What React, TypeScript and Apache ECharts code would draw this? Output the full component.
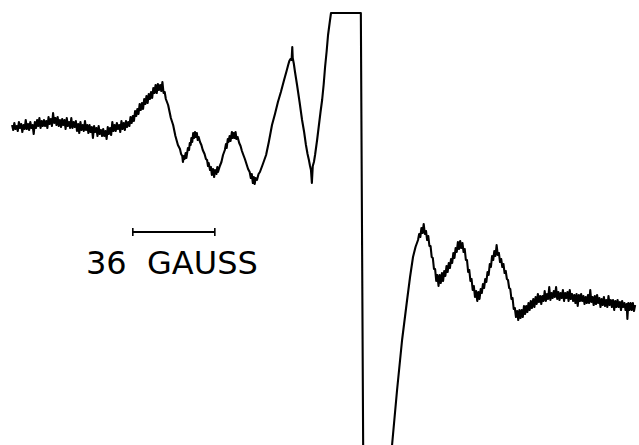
import React, { useEffect, useRef } from "react";
import * as echarts from "echarts";

// Field in gauss (relative), signal in arbitrary units (derivative EPR spectrum)
const leftBaseline: [number, number][] = [
  [5.3, 97], [5.8, 92], [6.3, 99], [6.8, 93], [7.3, 96], [7.8, 91], [8.3, 100], [8.8, 94],
  [9.3, 98], [9.8, 90], [10.3, 97], [10.8, 93], [11.3, 102], [11.8, 93], [12.3, 98], [12.8, 92],
  [13.3, 100], [13.8, 94], [14.3, 97], [14.8, 88], [15.3, 100], [15.8, 94], [16.3, 102], [16.8, 96],
  [17.3, 104], [17.8, 94], [18.3, 101], [18.8, 96], [19.3, 102], [19.8, 96], [20.3, 101], [20.8, 94],
  [21.3, 105], [21.8, 98], [22.3, 103], [22.8, 96], [23.3, 109], [23.8, 99], [24.3, 104], [24.8, 97],
  [25.3, 105], [25.8, 96], [26.3, 102], [26.8, 95], [27.3, 103], [27.8, 97], [28.3, 102], [28.8, 93],
  [29.3, 104], [29.8, 96], [30.3, 100], [30.8, 94], [31.3, 104], [31.8, 94], [32.3, 100], [32.8, 95],
  [33.3, 101], [33.8, 91], [34.3, 98], [34.8, 89], [35.3, 100], [35.8, 92], [36.3, 97], [36.8, 91],
  [37.3, 101], [37.8, 92], [38.3, 97], [38.8, 89], [39.3, 97], [39.8, 90], [40.3, 95], [40.8, 84],
  [41.3, 96], [41.8, 90], [42.3, 94], [42.8, 86], [43.3, 96], [43.8, 88], [44.3, 92], [44.8, 86],
  [45.3, 93], [45.8, 86], [46.3, 91], [46.8, 83], [47.3, 95], [47.8, 88], [48.3, 94], [48.8, 87],
  [49.3, 100], [49.8, 91], [50.3, 97], [50.8, 91], [51.3, 99], [51.8, 93], [52.3, 97], [52.8, 90],
  [53.3, 101], [53.8, 93], [54.3, 99], [54.8, 92], [55.3, 101], [55.8, 95], [56.3, 100], [56.8, 96],
  [57.3, 105], [57.8, 99],
];

const lowFieldLines: [number, number][] = [
  [58.3, 106], [58.8, 101], [59.3, 111], [59.8, 106], [60.3, 113], [60.8, 108], [61.3, 118],
  [61.8, 112], [62.3, 119], [62.8, 113], [63.3, 123], [63.8, 118], [64.3, 126], [64.8, 119],
  [65.3, 128], [65.8, 123], [66.3, 130], [66.8, 124], [67.3, 134], [67.8, 129], [68.3, 137],
  [68.8, 129], [69.3, 138], [69.8, 132], [70.3, 137], [70.8, 131], [71.3, 140], [71.8, 129],
  [72.3, 130], [72.8, 123], [73.8, 117], [75, 104], [76, 97], [77, 86], [78.1, 77], [79, 73],
  [79.5, 68], [80, 66], [80.3, 60], [80.7, 66], [81, 63], [81.5, 69], [81.8, 64], [82.5, 74],
  [83, 72], [83.3, 79], [83.7, 77], [84, 84], [84.4, 80], [84.8, 89], [85.2, 84], [85.6, 90],
  [86, 85], [86.4, 89], [86.8, 82], [87.2, 85], [87.8, 80], [88.4, 77], [89, 72], [89.8, 68],
  [90.4, 63], [90.9, 62], [91.3, 56], [91.6, 59], [92.2, 52], [92.6, 55], [93, 47], [93.5, 53],
  [94, 45], [94.4, 52], [95, 48], [95.4, 55], [95.7, 50], [96.5, 56], [97.2, 60], [97.9, 67],
  [98.7, 72], [99.2, 78], [99.5, 74], [100, 83], [100.3, 80], [100.8, 86], [101.2, 81],
  [101.8, 90], [102.2, 84], [102.6, 89], [103, 84], [103.4, 90], [103.8, 83], [104.3, 85],
  [105, 79], [105.6, 76], [106.2, 71], [107, 66], [107.5, 63], [108.2, 58], [108.9, 53],
  [109.6, 50], [110.1, 44], [110.5, 48], [111, 39], [111.4, 45], [111.8, 38], [112.2, 44],
  [112.8, 42], [113.5, 48], [114.1, 50], [115.4, 58], [116.8, 67], [118, 80], [119.4, 97],
  [120.7, 108], [122, 120], [123.3, 130], [124.7, 142], [125.8, 151], [126.5, 157], [127, 161],
  [127.5, 163], [128.0, 162], [128.3, 175], [128.5, 164], [129, 158], [129.5, 150], [130.4, 137],
  [131.5, 120], [132.6, 102], [133.5, 90], [134.3, 77], [135, 68], [135.6, 62], [136.1, 56],
  [136.5, 52], [136.9, 39], [137.3, 56], [137.8, 60], [138.3, 67], [139.2, 82], [140, 97],
  [140.7, 110], [141.4, 122], [142.1, 138], [142.7, 155], [143.4, 171], [144, 187], [144.7, 199],
];

const centralLine: [number, number][] = [
  [145.3, 209], [158.4, 209], [159.5, -260], [171.6, -260], [172.1, -223], [174.3, -168],
  [176.5, -118], [178.7, -78], [180, -55], [181.3, -35], [182.4, -25], [183.5, -18],
];

const highFieldLines: [number, number][] = [
  [184.0, -12], [184.5, -15], [185.0, -6], [185.5, -11], [186.0, -2], [186.5, -12], [187.0, -9],
  [187.5, -18], [188.0, -14], [188.5, -24], [189.0, -24], [189.5, -35], [190.0, -36], [190.5, -47],
  [191.0, -47], [191.5, -59], [192.0, -53], [192.5, -64], [193.0, -53], [193.5, -61], [194.0, -51],
  [194.5, -59], [195.0, -49], [195.5, -54], [196.0, -44], [196.5, -50], [197.0, -41], [197.5, -46],
  [198.0, -37], [198.5, -41], [199.0, -31], [199.5, -36], [200.0, -26], [200.5, -30], [201.0, -20],
  [201.5, -27], [202.0, -19], [202.5, -26], [203.0, -21], [203.5, -30], [204.0, -27], [204.5, -38],
  [205.0, -38], [205.5, -50], [206.0, -48], [206.5, -59], [207.0, -57], [207.5, -68], [208.0, -64],
  [208.5, -75], [209.0, -69], [209.5, -79], [210.0, -70], [210.5, -77], [211.0, -67], [211.5, -71],
  [212.0, -62], [212.5, -66], [213.0, -57], [213.5, -60], [214.0, -50], [214.5, -53], [215.0, -42],
  [215.5, -45], [216.0, -34], [216.5, -38], [217.0, -29], [217.5, -34], [218.0, -23], [218.5, -33],
  [219.0, -31], [219.5, -40], [220.0, -37], [220.5, -45], [221.0, -42], [221.5, -51], [222.0, -49],
  [222.5, -57], [223.0, -58], [223.5, -66], [224.0, -67], [224.5, -77], [225.0, -76], [225.5, -87],
  [226.0, -86], [226.5, -95], [227.0, -89], [227.5, -98], [228.0, -88], [228.5, -96], [229.0, -88],
  [229.5, -95], [230.0, -84], [230.5, -92], [231.0, -84], [231.5, -90], [232.0, -81], [232.5, -88],
  [233.0, -79], [233.5, -86],
];

const rightBaseline: [number, number][] = [
  [234.1, -77], [234.6, -85], [235.1, -75], [235.6, -82], [236.1, -72], [236.6, -80], [237.1, -74],
  [237.6, -82], [238.1, -74], [238.6, -79], [239.1, -69], [239.6, -79], [240.1, -72], [240.6, -77],
  [241.1, -65], [241.6, -78], [242.1, -71], [242.6, -76], [243.1, -69], [243.6, -75], [244.1, -65],
  [244.6, -77], [245.1, -70], [245.6, -78], [246.1, -71], [246.6, -76], [247.1, -68], [247.6, -79],
  [248.1, -71], [248.6, -76], [249.1, -70], [249.6, -79], [250.1, -68], [250.6, -77], [251.1, -72],
  [251.6, -79], [252.1, -73], [252.6, -81], [253.1, -72], [253.6, -84], [254.1, -73], [254.6, -79],
  [255.1, -72], [255.6, -79], [256.1, -74], [256.6, -82], [257.1, -75], [257.6, -81], [258.1, -73],
  [258.6, -81], [259.1, -68], [259.6, -80], [260.1, -75], [260.6, -83], [261.1, -74], [261.6, -82],
  [262.1, -73], [262.6, -81], [263.1, -76], [263.6, -85], [264.1, -77], [264.6, -83], [265.1, -75],
  [265.6, -84], [266.1, -78], [266.6, -85], [267.1, -74], [267.6, -83], [268.1, -78], [268.6, -85],
  [269.1, -78], [269.6, -88], [270.1, -79], [270.6, -85], [271.1, -78], [271.6, -85], [272.1, -80],
  [272.6, -88], [273.1, -79], [273.6, -85], [274.1, -81], [274.6, -88], [275.1, -82], [275.4, -97],
  [275.8, -81], [276.3, -88], [276.8, -81], [277.3, -88], [277.8, -81], [278.3, -89], [278.8, -83],
];

// 36 gauss scale bar
const scaleBarField: number[] = [58.3, 94.3];
const scaleBarLevel = -10;
const scaleLabel = "36  GAUSS";

export default function App() {
  const ref = useRef<HTMLDivElement>(null);
  useEffect(() => {
    if (!ref.current) return;
    const chart = echarts.init(ref.current, null, { renderer: "svg" });
    const spectrum = [
      ...leftBaseline,
      ...lowFieldLines,
      ...centralLine,
      ...highFieldLines,
      ...rightBaseline,
    ];
    chart.setOption({
      animation: false,
      backgroundColor: "#ffffff",
      grid: { left: 0, right: 0, top: 0, bottom: 0, containLabel: false },
      xAxis: { type: "value", min: 0, max: 280.5, show: false },
      yAxis: { type: "value", min: -223, max: 222, show: false },
      series: [
        {
          type: "line",
          data: spectrum,
          showSymbol: false,
          symbol: "none",
          clip: true,
          lineStyle: { color: "#000", width: 2.1, join: "round" },
        },
        {
          type: "line",
          data: scaleBarField.map((g) => [g, scaleBarLevel]),
          symbol: "rect",
          symbolSize: [1.6, 8],
          showSymbol: true,
          itemStyle: { color: "#000" },
          lineStyle: { color: "#000", width: 2 },
        },
      ],
      graphic: [
        {
          type: "text",
          x: 86,
          y: 263,
          style: {
            text: scaleLabel,
            font: "32px 'DejaVu Sans'",
            fill: "#000",
            align: "left",
            verticalAlign: "middle",
            textAlign: "left",
            textVerticalAlign: "middle",
          },
        },
      ],
    });
    return () => chart.dispose();
  }, []);
  return (
    <div
      ref={ref}
      style={{ position: "fixed", left: 0, top: 0, width: 639, height: 445 }}
    />
  );
}
